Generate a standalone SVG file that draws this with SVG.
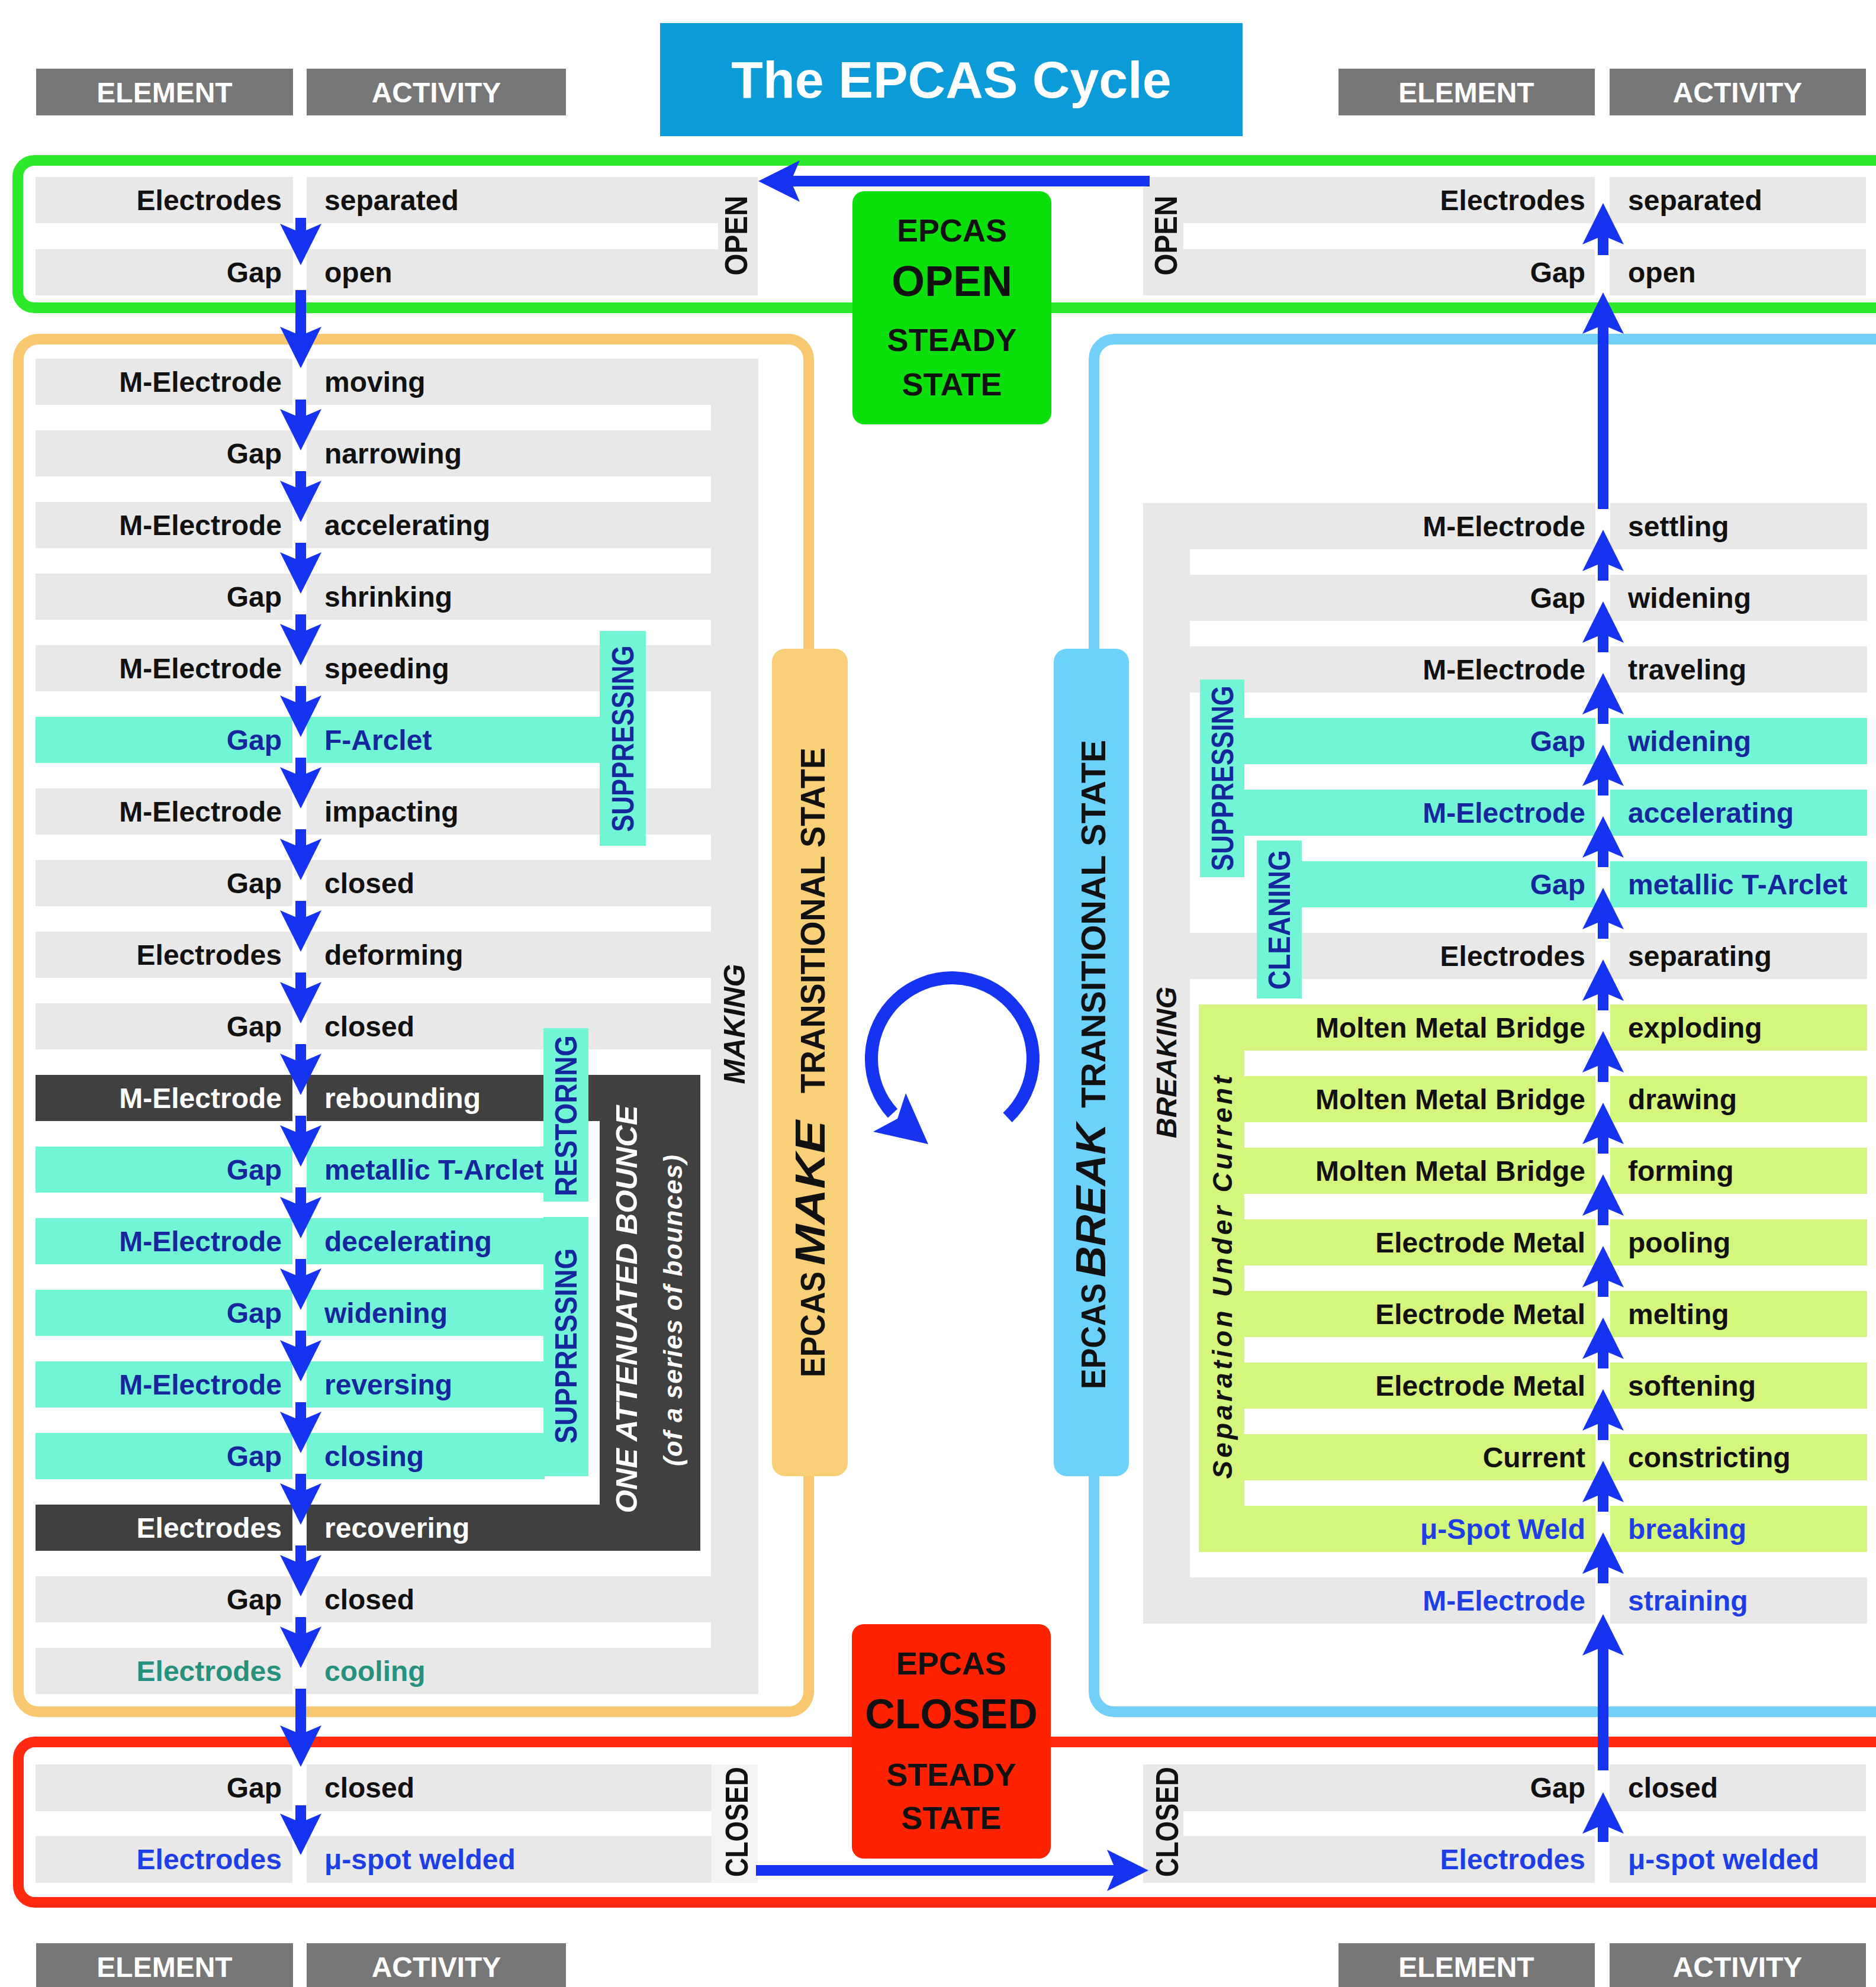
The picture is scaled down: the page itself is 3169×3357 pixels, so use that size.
<svg xmlns="http://www.w3.org/2000/svg" width="3169" height="3357" viewBox="0 0 3169 3357">
<defs>
<marker id="ah" markerUnits="userSpaceOnUse" markerWidth="70" markerHeight="70" refX="40" refY="35" orient="auto" viewBox="0 0 70 70">
<path d="M0,0 L70,35 L0,70 L15,35 Z" fill="#1533f0"/>
</marker>
<style>
text{font-family:"Liberation Sans",Arial,sans-serif;font-weight:bold}
.g{fill:#e8e8e8}.t{fill:#72f5d5}.d{fill:#404040}.l{fill:#d5f67c}.lg{fill:#f3f3f3}
.hdr{fill:#777777}
.ht{font-size:48px;fill:#fff;text-anchor:middle}
.el{font-size:48px;fill:#111;text-anchor:end}
.ac{font-size:48px;fill:#111}
.nv{fill:#16269c}.wh{fill:#fff}.bl{fill:#1e3fe6}.tg{fill:#27917f}
.lab{font-size:52px;fill:#16269c;text-anchor:middle}
.side{font-size:54px;fill:#111;text-anchor:middle}
.box{font-size:54px;fill:#111;text-anchor:middle}
</style>
</defs>
<rect x="0" y="0" width="3169" height="3357" fill="#ffffff"/>

<g id="headers">
<rect class="hdr" x="61" y="116" width="434" height="79"/><text class="ht" x="278" y="173">ELEMENT</text>
<rect class="hdr" x="518" y="116" width="438" height="79"/><text class="ht" x="737" y="173">ACTIVITY</text>
<rect class="hdr" x="2261" y="116" width="433" height="79"/><text class="ht" x="2477" y="173">ELEMENT</text>
<rect class="hdr" x="2719" y="116" width="433" height="79"/><text class="ht" x="2935" y="173">ACTIVITY</text>
<rect class="hdr" x="61" y="3283" width="434" height="80"/><text class="ht" x="278" y="3340">ELEMENT</text>
<rect class="hdr" x="518" y="3283" width="438" height="80"/><text class="ht" x="737" y="3340">ACTIVITY</text>
<rect class="hdr" x="2261" y="3283" width="433" height="80"/><text class="ht" x="2477" y="3340">ELEMENT</text>
<rect class="hdr" x="2719" y="3283" width="433" height="80"/><text class="ht" x="2935" y="3340">ACTIVITY</text>
</g>

<g id="title">
<rect x="1115" y="39" width="984" height="191" fill="#0a9bd8"/>
<text x="1607" y="165" font-size="88" fill="#fff" text-anchor="middle">The EPCAS Cycle</text>
</g>

<g id="frames" fill="none" stroke-width="18">
<rect id="open-frame" x="30" y="271" width="3200" height="249" rx="28" stroke="#2ee82a"/>
<rect id="make-frame" x="31" y="573" width="1335" height="2319" rx="34" stroke="#f8c870"/>
<rect id="break-frame" x="1848" y="573" width="1400" height="2319" rx="34" stroke="#72d0f8"/>
<rect id="closed-frame" x="31" y="2943" width="3200" height="271" rx="28" stroke="#ff2a10"/>
</g>

<g id="open-left">
<rect class="g" x="60" y="299" width="435" height="78"/><rect class="g" x="518" y="299" width="762" height="78"/>
<rect class="g" x="60" y="421" width="435" height="78"/><rect class="g" x="518" y="421" width="762" height="78"/>
<rect class="g" x="1213" y="299" width="67" height="200"/>
<text class="el" x="476" y="355">Electrodes</text><text class="ac" x="548" y="355">separated</text>
<text class="el" x="476" y="477">Gap</text><text class="ac" x="548" y="477">open</text>
<text class="side" transform="translate(1262,398) rotate(-90)" textLength="135" lengthAdjust="spacingAndGlyphs">OPEN</text>
</g>
<g id="open-right">
<rect class="g" x="1931" y="299" width="763" height="78"/><rect class="g" x="2719" y="299" width="433" height="78"/>
<rect class="g" x="1931" y="421" width="763" height="78"/><rect class="g" x="2719" y="421" width="433" height="78"/>
<rect class="g" x="1931" y="299" width="68" height="200"/>
<text class="el" x="2678" y="355">Electrodes</text><text class="ac" x="2750" y="355">separated</text>
<text class="el" x="2678" y="477">Gap</text><text class="ac" x="2750" y="477">open</text>
<text class="side" transform="translate(1988,398) rotate(-90)" textLength="135" lengthAdjust="spacingAndGlyphs">OPEN</text>
</g>

<g id="make-rows">
<rect class="g" x="1201" y="606" width="80" height="2256"/>
<text transform="translate(1258,1730) rotate(-90)" font-size="50" font-style="italic" fill="#111" text-anchor="middle">MAKING</text>
<g id="L0"><rect class="g" x="60" y="606" width="434" height="78"/><rect class="g" x="518" y="606" width="683" height="78"/><text class="el" x="476" y="662">M-Electrode</text><text class="ac" x="548" y="662">moving</text></g>
<g id="L1"><rect class="g" x="60" y="727" width="434" height="78"/><rect class="g" x="518" y="727" width="683" height="78"/><text class="el" x="476" y="783">Gap</text><text class="ac" x="548" y="783">narrowing</text></g>
<g id="L2"><rect class="g" x="60" y="848" width="434" height="78"/><rect class="g" x="518" y="848" width="683" height="78"/><text class="el" x="476" y="904">M-Electrode</text><text class="ac" x="548" y="904">accelerating</text></g>
<g id="L3"><rect class="g" x="60" y="969" width="434" height="78"/><rect class="g" x="518" y="969" width="683" height="78"/><text class="el" x="476" y="1025">Gap</text><text class="ac" x="548" y="1025">shrinking</text></g>
<g id="L4"><rect class="g" x="60" y="1090" width="434" height="78"/><rect class="g" x="518" y="1090" width="683" height="78"/><text class="el" x="476" y="1146">M-Electrode</text><text class="ac" x="548" y="1146">speeding</text></g>
<g id="L5"><rect class="t" x="60" y="1211" width="434" height="78"/><rect class="t" x="518" y="1211" width="495" height="78"/><text class="el nv" x="476" y="1267">Gap</text><text class="ac nv" x="548" y="1267">F-Arclet</text></g>
<g id="L6"><rect class="g" x="60" y="1332" width="434" height="78"/><rect class="g" x="518" y="1332" width="683" height="78"/><text class="el" x="476" y="1388">M-Electrode</text><text class="ac" x="548" y="1388">impacting</text></g>
<g id="L7"><rect class="g" x="60" y="1453" width="434" height="78"/><rect class="g" x="518" y="1453" width="683" height="78"/><text class="el" x="476" y="1509">Gap</text><text class="ac" x="548" y="1509">closed</text></g>
<g id="L8"><rect class="g" x="60" y="1574" width="434" height="78"/><rect class="g" x="518" y="1574" width="683" height="78"/><text class="el" x="476" y="1630">Electrodes</text><text class="ac" x="548" y="1630">deforming</text></g>
<g id="L9"><rect class="g" x="60" y="1695" width="434" height="78"/><rect class="g" x="518" y="1695" width="683" height="78"/><text class="el" x="476" y="1751">Gap</text><text class="ac" x="548" y="1751">closed</text></g>
<g id="L10"><rect class="d" x="60" y="1816" width="434" height="78"/><rect class="d" x="518" y="1816" width="665" height="78"/><text class="el wh" x="476" y="1872">M-Electrode</text><text class="ac wh" x="548" y="1872">rebounding</text></g>
<g id="L11"><rect class="t" x="60" y="1937" width="434" height="78"/><rect class="t" x="518" y="1937" width="402" height="78"/><text class="el nv" x="476" y="1993">Gap</text><text class="ac nv" x="548" y="1993">metallic T-Arclet</text></g>
<g id="L12"><rect class="t" x="60" y="2058" width="434" height="78"/><rect class="t" x="518" y="2058" width="402" height="78"/><text class="el nv" x="476" y="2114">M-Electrode</text><text class="ac nv" x="548" y="2114">decelerating</text></g>
<g id="L13"><rect class="t" x="60" y="2179" width="434" height="78"/><rect class="t" x="518" y="2179" width="402" height="78"/><text class="el nv" x="476" y="2235">Gap</text><text class="ac nv" x="548" y="2235">widening</text></g>
<g id="L14"><rect class="t" x="60" y="2300" width="434" height="78"/><rect class="t" x="518" y="2300" width="402" height="78"/><text class="el nv" x="476" y="2356">M-Electrode</text><text class="ac nv" x="548" y="2356">reversing</text></g>
<g id="L15"><rect class="t" x="60" y="2421" width="434" height="78"/><rect class="t" x="518" y="2421" width="402" height="78"/><text class="el nv" x="476" y="2477">Gap</text><text class="ac nv" x="548" y="2477">closing</text></g>
<g id="L16"><rect class="d" x="60" y="2542" width="434" height="78"/><rect class="d" x="518" y="2542" width="665" height="78"/><text class="el wh" x="476" y="2598">Electrodes</text><text class="ac wh" x="548" y="2598">recovering</text></g>
<g id="bounce-box"><rect class="d" x="1013" y="1816" width="170" height="804"/>
<text transform="translate(1076,2212) rotate(-90)" font-size="50" font-style="italic" fill="#fff" text-anchor="middle" textLength="689" lengthAdjust="spacingAndGlyphs">ONE ATTENUATED BOUNCE</text>
<text transform="translate(1152,2214) rotate(-90)" font-size="44" font-style="italic" font-weight="normal" fill="#fff" text-anchor="middle" textLength="526" lengthAdjust="spacing">(of a series of bounces)</text></g>
<g id="L17"><rect class="g" x="60" y="2663" width="434" height="78"/><rect class="g" x="518" y="2663" width="683" height="78"/><text class="el" x="476" y="2719">Gap</text><text class="ac" x="548" y="2719">closed</text></g>
<g id="L18"><rect class="g" x="60" y="2784" width="434" height="78"/><rect class="g" x="518" y="2784" width="683" height="78"/><text class="el tg" x="476" y="2840">Electrodes</text><text class="ac tg" x="548" y="2840">cooling</text></g>
<g id="sup-left-1"><rect class="t" x="1013" y="1066" width="78" height="363"/><text class="lab" transform="translate(1070,1248) rotate(-90)" textLength="315" lengthAdjust="spacingAndGlyphs">SUPPRESSING</text></g>
<g id="restoring"><rect class="t" x="918" y="1737" width="76" height="293"/><text class="lab" transform="translate(974,1885) rotate(-90)" textLength="272" lengthAdjust="spacingAndGlyphs">RESTORING</text></g>
<g id="sup-left-2"><rect class="t" x="918" y="2056" width="76" height="438"/><text class="lab" transform="translate(974,2274) rotate(-90)" textLength="330" lengthAdjust="spacingAndGlyphs">SUPPRESSING</text></g>
</g>

<g id="break-rows">
<rect class="g" x="1931" y="850" width="79" height="1893"/>
<text transform="translate(1987,1795) rotate(-90)" font-size="48" font-style="italic" fill="#111" text-anchor="middle">BREAKING</text>
<rect class="l" x="2025" y="1697" width="77" height="925"/>
<g id="R0"><rect class="g" x="2010" y="850" width="685" height="78"/><rect class="g" x="2720" y="850" width="434" height="78"/><text class="el" x="2678" y="906">M-Electrode</text><text class="ac" x="2750" y="906">settling</text></g>
<g id="R1"><rect class="g" x="2010" y="971" width="685" height="78"/><rect class="g" x="2720" y="971" width="434" height="78"/><text class="el" x="2678" y="1027">Gap</text><text class="ac" x="2750" y="1027">widening</text></g>
<g id="R2"><rect class="g" x="2010" y="1092" width="685" height="78"/><rect class="g" x="2720" y="1092" width="434" height="78"/><text class="el" x="2678" y="1148">M-Electrode</text><text class="ac" x="2750" y="1148">traveling</text></g>
<g id="R3"><rect class="t" x="2102" y="1213" width="593" height="78"/><rect class="t" x="2720" y="1213" width="434" height="78"/><text class="el nv" x="2678" y="1269">Gap</text><text class="ac nv" x="2750" y="1269">widening</text></g>
<g id="R4"><rect class="t" x="2102" y="1334" width="593" height="78"/><rect class="t" x="2720" y="1334" width="434" height="78"/><text class="el nv" x="2678" y="1390">M-Electrode</text><text class="ac nv" x="2750" y="1390">accelerating</text></g>
<g id="R5"><rect class="t" x="2199" y="1455" width="496" height="78"/><rect class="t" x="2720" y="1455" width="434" height="78"/><text class="el nv" x="2678" y="1511">Gap</text><text class="ac nv" x="2750" y="1511">metallic T-Arclet</text></g>
<g id="R6"><rect class="g" x="2010" y="1576" width="685" height="78"/><rect class="g" x="2720" y="1576" width="434" height="78"/><text class="el" x="2678" y="1632">Electrodes</text><text class="ac" x="2750" y="1632">separating</text></g>
<g id="R7"><rect class="l" x="2102" y="1697" width="593" height="78"/><rect class="l" x="2720" y="1697" width="434" height="78"/><text class="el" x="2678" y="1753">Molten Metal Bridge</text><text class="ac" x="2750" y="1753">exploding</text></g>
<g id="R8"><rect class="l" x="2102" y="1818" width="593" height="78"/><rect class="l" x="2720" y="1818" width="434" height="78"/><text class="el" x="2678" y="1874">Molten Metal Bridge</text><text class="ac" x="2750" y="1874">drawing</text></g>
<g id="R9"><rect class="l" x="2102" y="1939" width="593" height="78"/><rect class="l" x="2720" y="1939" width="434" height="78"/><text class="el" x="2678" y="1995">Molten Metal Bridge</text><text class="ac" x="2750" y="1995">forming</text></g>
<g id="R10"><rect class="l" x="2102" y="2060" width="593" height="78"/><rect class="l" x="2720" y="2060" width="434" height="78"/><text class="el" x="2678" y="2116">Electrode Metal</text><text class="ac" x="2750" y="2116">pooling</text></g>
<g id="R11"><rect class="l" x="2102" y="2181" width="593" height="78"/><rect class="l" x="2720" y="2181" width="434" height="78"/><text class="el" x="2678" y="2237">Electrode Metal</text><text class="ac" x="2750" y="2237">melting</text></g>
<g id="R12"><rect class="l" x="2102" y="2302" width="593" height="78"/><rect class="l" x="2720" y="2302" width="434" height="78"/><text class="el" x="2678" y="2358">Electrode Metal</text><text class="ac" x="2750" y="2358">softening</text></g>
<g id="R13"><rect class="l" x="2102" y="2423" width="593" height="78"/><rect class="l" x="2720" y="2423" width="434" height="78"/><text class="el" x="2678" y="2479">Current</text><text class="ac" x="2750" y="2479">constricting</text></g>
<g id="R14"><rect class="l" x="2102" y="2544" width="593" height="78"/><rect class="l" x="2720" y="2544" width="434" height="78"/><text class="el bl" x="2678" y="2600">μ-Spot Weld</text><text class="ac bl" x="2750" y="2600">breaking</text></g>
<g id="R15"><rect class="g" x="2010" y="2665" width="685" height="78"/><rect class="g" x="2720" y="2665" width="434" height="78"/><text class="el bl" x="2678" y="2721">M-Electrode</text><text class="ac bl" x="2750" y="2721">straining</text></g>
<g id="sup-right"><rect class="t" x="2027" y="1148" width="75" height="334"/><text class="lab" transform="translate(2083,1315) rotate(-90)" textLength="313" lengthAdjust="spacingAndGlyphs">SUPPRESSING</text></g>
<g id="cleaning"><rect class="t" x="2123" y="1420" width="76" height="267"/><text class="lab" transform="translate(2179,1554) rotate(-90)" textLength="236" lengthAdjust="spacingAndGlyphs">CLEANING</text></g>
<text transform="translate(2081,2158) rotate(-90)" font-size="46" font-style="italic" fill="#111" text-anchor="middle" textLength="681" lengthAdjust="spacing">Separation Under Current</text>
</g>

<g id="closed-left">
<rect class="g" x="60" y="2981" width="434" height="79"/><rect class="g" x="518" y="2981" width="684" height="79"/>
<rect class="g" x="60" y="3102" width="434" height="79"/><rect class="g" x="518" y="3102" width="684" height="79"/>
<rect class="lg" x="1202" y="2981" width="78" height="200"/>
<text class="el" x="476" y="3037">Gap</text><text class="ac" x="548" y="3037">closed</text>
<text class="el bl" x="476" y="3158">Electrodes</text><text class="ac bl" x="548" y="3158">μ-spot welded</text>
<text class="side" transform="translate(1263,3078) rotate(-90)" textLength="186" lengthAdjust="spacingAndGlyphs">CLOSED</text>
</g>
<g id="closed-right">
<rect class="g" x="1931" y="2981" width="763" height="79"/><rect class="g" x="2719" y="2981" width="433" height="79"/>
<rect class="g" x="1931" y="3102" width="763" height="79"/><rect class="g" x="2719" y="3102" width="433" height="79"/>
<rect class="g" x="1931" y="2981" width="68" height="200"/>
<text class="el" x="2678" y="3037">Gap</text><text class="ac" x="2750" y="3037">closed</text>
<text class="el bl" x="2678" y="3158">Electrodes</text><text class="ac bl" x="2750" y="3158">μ-spot welded</text>
<text class="side" transform="translate(1990,3078) rotate(-90)" textLength="186" lengthAdjust="spacingAndGlyphs">CLOSED</text>
</g>

<g id="make-bar">
<rect x="1304" y="1096" width="128" height="1398" rx="22" fill="#f9cf78"/>
<g transform="translate(1393,1795) rotate(-90)" fill="#111">
<text x="-532" y="0" font-size="57" textLength="179" lengthAdjust="spacingAndGlyphs">EPCAS</text>
<text x="-343" y="0" font-size="70" font-style="italic" textLength="245" lengthAdjust="spacingAndGlyphs">MAKE</text>
<text x="-52" y="0" font-size="57" textLength="584" lengthAdjust="spacingAndGlyphs">TRANSITIONAL STATE</text>
</g>
</g>
<g id="break-bar">
<rect x="1780" y="1096" width="127" height="1398" rx="22" fill="#6dd2fb"/>
<g transform="translate(1867,1798) rotate(-90)" fill="#111">
<text x="-549" y="0" font-size="57" textLength="179" lengthAdjust="spacingAndGlyphs">EPCAS</text>
<text x="-360" y="0" font-size="70" font-style="italic" textLength="260" lengthAdjust="spacingAndGlyphs">BREAK</text>
<text x="-74" y="0" font-size="57" textLength="622" lengthAdjust="spacingAndGlyphs">TRANSITIONAL STATE</text>
</g>
</g>

<g id="open-state">
<rect x="1440" y="323" width="336" height="394" rx="20" fill="#0ce00c"/>
<text class="box" x="1608" y="408">EPCAS</text>
<text x="1608" y="500" font-size="72" fill="#111" text-anchor="middle">OPEN</text>
<text class="box" x="1608" y="593">STEADY</text>
<text class="box" x="1608" y="668">STATE</text>
</g>
<g id="closed-state">
<rect x="1439" y="2744" width="336" height="396" rx="20" fill="#ff2200"/>
<text class="box" x="1607" y="2829">EPCAS</text>
<text x="1607" y="2920" font-size="70" fill="#111" text-anchor="middle">CLOSED</text>
<text class="box" x="1607" y="3017">STEADY</text>
<text class="box" x="1607" y="3090">STATE</text>
</g>

<g id="cycle">
<path d="M1702,1888 A136.5,136.5 0 1 0 1508,1881" fill="none" stroke="#1533f0" stroke-width="22"/>
<path d="M1475,1912 L1568,1933 L1530,1847 L1516,1890 Z" fill="#1533f0"/>
</g>

<g id="connectors" stroke="#1533f0" stroke-width="18" marker-end="url(#ah)">
<line x1="508" y1="368" x2="508" y2="418"/>
<line x1="508" y1="490" x2="508" y2="592"/>
<line x1="508" y1="675" x2="508" y2="731"/>
<line x1="508" y1="796" x2="508" y2="852"/>
<line x1="508" y1="917" x2="508" y2="973"/>
<line x1="508" y1="1038" x2="508" y2="1094"/>
<line x1="508" y1="1159" x2="508" y2="1215"/>
<line x1="508" y1="1280" x2="508" y2="1336"/>
<line x1="508" y1="1401" x2="508" y2="1457"/>
<line x1="508" y1="1522" x2="508" y2="1578"/>
<line x1="508" y1="1643" x2="508" y2="1699"/>
<line x1="508" y1="1764" x2="508" y2="1820"/>
<line x1="508" y1="1885" x2="508" y2="1941"/>
<line x1="508" y1="2006" x2="508" y2="2062"/>
<line x1="508" y1="2127" x2="508" y2="2183"/>
<line x1="508" y1="2248" x2="508" y2="2304"/>
<line x1="508" y1="2369" x2="508" y2="2425"/>
<line x1="508" y1="2490" x2="508" y2="2546"/>
<line x1="508" y1="2611" x2="508" y2="2667"/>
<line x1="508" y1="2732" x2="508" y2="2788"/>
<line x1="508" y1="2853" x2="508" y2="2955"/>
<line x1="508" y1="3050" x2="508" y2="3104"/>
<line x1="1277" y1="3160" x2="1910" y2="3160"/>
<line x1="2708" y1="3112" x2="2708" y2="3058"/>
<line x1="2708" y1="2991" x2="2708" y2="2757"/>
<line x1="2708" y1="2675" x2="2708" y2="2619"/>
<line x1="2708" y1="2554" x2="2708" y2="2498"/>
<line x1="2708" y1="2433" x2="2708" y2="2377"/>
<line x1="2708" y1="2312" x2="2708" y2="2256"/>
<line x1="2708" y1="2191" x2="2708" y2="2135"/>
<line x1="2708" y1="2070" x2="2708" y2="2014"/>
<line x1="2708" y1="1949" x2="2708" y2="1893"/>
<line x1="2708" y1="1828" x2="2708" y2="1772"/>
<line x1="2708" y1="1707" x2="2708" y2="1651"/>
<line x1="2708" y1="1586" x2="2708" y2="1530"/>
<line x1="2708" y1="1465" x2="2708" y2="1409"/>
<line x1="2708" y1="1344" x2="2708" y2="1288"/>
<line x1="2708" y1="1223" x2="2708" y2="1167"/>
<line x1="2708" y1="1102" x2="2708" y2="1046"/>
<line x1="2708" y1="981" x2="2708" y2="925"/>
<line x1="2708" y1="860" x2="2708" y2="524"/>
<line x1="2708" y1="431" x2="2708" y2="373"/>
<line x1="1942" y1="306" x2="1311" y2="306"/>
</g>
</svg>
